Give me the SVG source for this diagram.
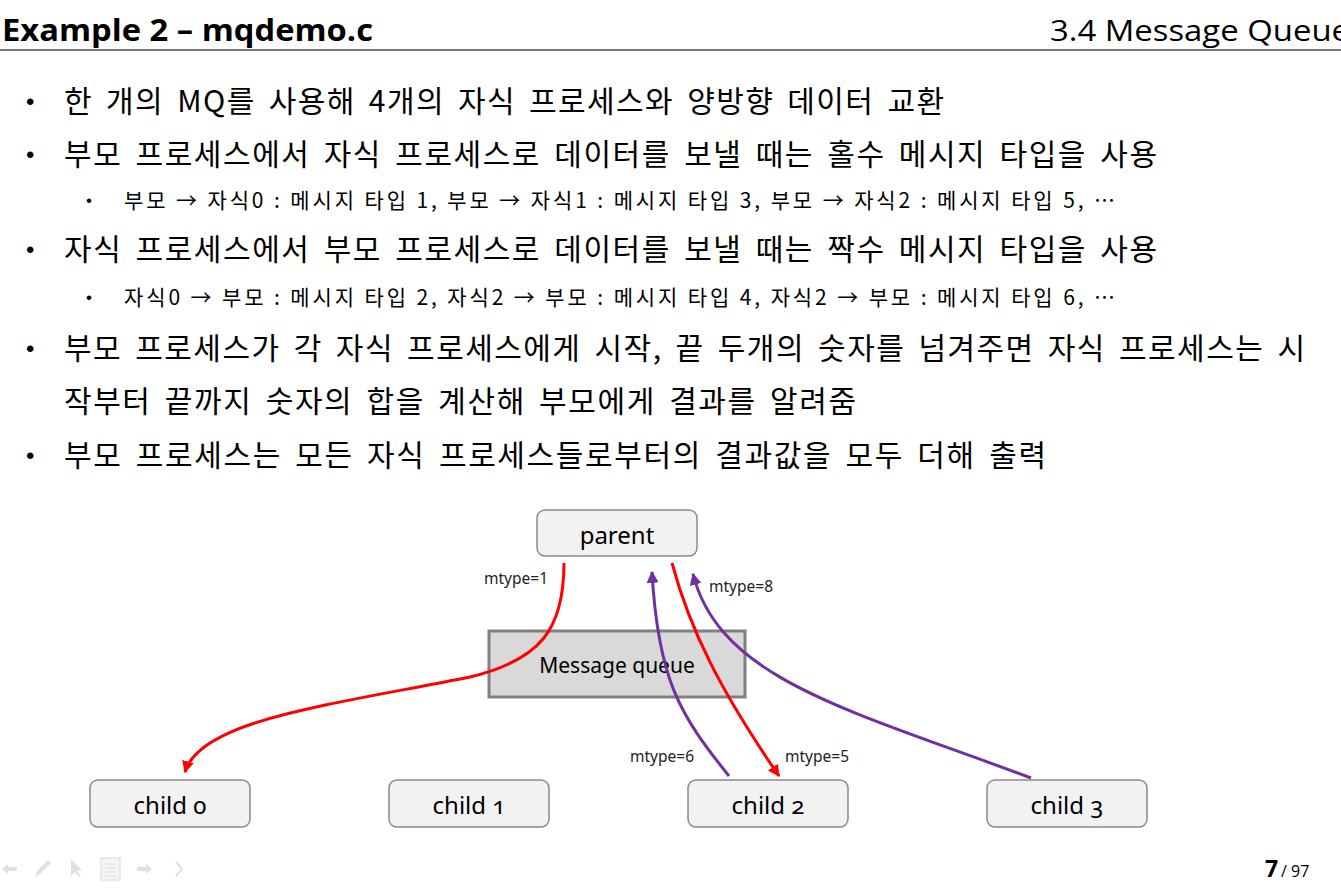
<svg xmlns="http://www.w3.org/2000/svg" width="1341" height="889" viewBox="0 0 1341 889">
<defs>
<style>
.kr{font-family:"Noto Sans CJK KR","Noto Sans",sans-serif;fill:#000;}
.b{font-size:30px;word-spacing:5px;}
.s{font-size:21px;word-spacing:0px;}
.dot{font-family:"Liberation Sans",sans-serif;fill:#000;}
.node rect{fill:#f2f2f2;stroke:#8a8a8a;stroke-width:1.5;}
.lbl{font-family:"Noto Sans","Open Sans",sans-serif;fill:#000;text-anchor:middle;font-feature-settings:"onum";font-variant-numeric:oldstyle-nums;}
.mt{font-family:"Noto Sans","Open Sans",sans-serif;font-size:15.5px;fill:#222;}
.red{fill:none;stroke:#ff0000;stroke-width:3;}
.pur{fill:none;stroke:#7030a0;stroke-width:3;}
.ic{fill:#e0e0e0;stroke:none;}
</style>
<marker id="ar" viewBox="0 0 10 10" refX="9" refY="5" markerWidth="4" markerHeight="4" orient="auto" markerUnits="strokeWidth">
<path d="M0,0 L10,5 L0,10 Z" fill="#ff0000"/>
</marker>
<marker id="ap" viewBox="0 0 10 10" refX="9" refY="5" markerWidth="4" markerHeight="4" orient="auto" markerUnits="strokeWidth">
<path d="M0,0 L10,5 L0,10 Z" fill="#7030a0"/>
</marker>
</defs>
<rect x="0" y="0" width="1341" height="889" fill="#ffffff"/>

<g id="header">
<text x="2" y="41" font-family="'Open Sans','Liberation Sans',sans-serif" font-weight="bold" font-size="30" textLength="371" lengthAdjust="spacingAndGlyphs">Example 2 – mqdemo.c</text>
<text x="1050" y="41" font-family="'Open Sans','Liberation Sans',sans-serif" font-size="30" textLength="300" lengthAdjust="spacingAndGlyphs">3.4 Message Queue</text>
<line x1="0" y1="50" x2="1341" y2="50" stroke="#777777" stroke-width="2.2"/>
</g>

<g id="bullets">
<text class="dot" x="26" y="110" font-size="24">•</text>
<text class="kr b" x="64" y="112" textLength="880" lengthAdjust="spacing">한 개의 MQ를 사용해 4개의 자식 프로세스와 양방향 데이터 교환</text>
<text class="dot" x="26" y="163" font-size="24">•</text>
<text class="kr b" x="64" y="165" textLength="1093" lengthAdjust="spacing">부모 프로세스에서 자식 프로세스로 데이터를 보낼 때는 홀수 메시지 타입을 사용</text>
<text class="dot" x="86" y="206" font-size="17">•</text>
<text class="kr s" x="124" y="208" textLength="991" lengthAdjust="spacing">부모 → 자식0 : 메시지 타입 1, 부모 → 자식1 : 메시지 타입 3, 부모 → 자식2 : 메시지 타입 5, …</text>
<text class="dot" x="26" y="258" font-size="24">•</text>
<text class="kr b" x="64" y="260" textLength="1093" lengthAdjust="spacing">자식 프로세스에서 부모 프로세스로 데이터를 보낼 때는 짝수 메시지 타입을 사용</text>
<text class="dot" x="86" y="303" font-size="17">•</text>
<text class="kr s" x="124" y="305" textLength="991" lengthAdjust="spacing">자식0 → 부모 : 메시지 타입 2, 자식2 → 부모 : 메시지 타입 4, 자식2 → 부모 : 메시지 타입 6, …</text>
<text class="dot" x="26" y="357" font-size="24">•</text>
<text class="kr b" x="64" y="359" textLength="1241" lengthAdjust="spacing">부모 프로세스가 각 자식 프로세스에게 시작, 끝 두개의 숫자를 넘겨주면 자식 프로세스는 시</text>
<text class="kr b" x="64" y="412" textLength="792" lengthAdjust="spacing">작부터 끝까지 숫자의 합을 계산해 부모에게 결과를 알려줌</text>
<text class="dot" x="26" y="464" font-size="24">•</text>
<text class="kr b" x="64" y="466" textLength="982" lengthAdjust="spacing">부모 프로세스는 모든 자식 프로세스들로부터의 결과값을 모두 더해 출력</text>
</g>

<g id="queue">
<rect x="489" y="631" width="256" height="66" fill="#d9d9d9" stroke="#808080" stroke-width="3"/>
<text class="lbl" x="617" y="673" font-size="21">Message queue</text>
</g>

<g id="connectors">
<path class="red" d="M564,563 C564,630 540,660 470,677 C330,705 200,720 185,772" marker-end="url(#ar)"/>
<path class="pur" d="M729,776 C680,715 658,680 652,572" marker-end="url(#ap)"/>
<path class="red" d="M672,563 C690,630 720,690 779,776" marker-end="url(#ar)"/>
<path class="pur" d="M1031,778 C850,710 720,680 693,574" marker-end="url(#ap)"/>
<text class="mt" x="484" y="584">mtype=1</text>
<text class="mt" x="709" y="592">mtype=8</text>
<text class="mt" x="630" y="762">mtype=6</text>
<text class="mt" x="785" y="762">mtype=5</text>
</g>

<g id="parent" class="node">
<rect x="537" y="510" width="160" height="46" rx="8"/>
<text class="lbl" x="617" y="544" font-size="24">parent</text>
</g>
<g id="child0" class="node">
<rect x="90" y="780" width="160" height="47" rx="8"/>
<text class="lbl" x="170" y="814" font-size="24">child 0</text>
</g>
<g id="child1" class="node">
<rect x="389" y="780" width="160" height="47" rx="8"/>
<text class="lbl" x="469" y="814" font-size="24">child 1</text>
</g>
<g id="child2" class="node">
<rect x="688" y="780" width="160" height="47" rx="8"/>
<text class="lbl" x="768" y="814" font-size="24">child 2</text>
</g>
<g id="child3" class="node">
<rect x="987" y="780" width="160" height="47" rx="8"/>
<text class="lbl" x="1067" y="814" font-size="24">child 3</text>
</g>

<g id="footer">
<path class="ic" d="M2,869 L8,864 L8,867 L17,867 L17,871 L8,871 L8,874 Z"/>
<path class="ic" d="M35,877 L37,871 L48,860 L51,863 L40,874 Z"/>
<path class="ic" d="M71,859 L71,876 L75,872 L79,877 L81,876 L77,871 L82,870 Z"/>
<rect x="101" y="858" width="19" height="22" fill="#f4f4f4" stroke="#dddddd" stroke-width="1.2"/>
<path d="M105,864 H116 M105,868 H116 M105,872 H116 M105,876 H116" stroke="#dddddd" stroke-width="1.2"/>
<path class="ic" d="M152,869 L146,864 L146,867 L137,867 L137,871 L146,871 L146,874 Z"/>
<path d="M176,862 L182,869 L176,876" fill="none" stroke="#e0e0e0" stroke-width="2"/>
<text x="1265" y="877" font-family="'Open Sans','Liberation Sans',sans-serif" font-weight="bold" font-size="23">7</text>
<text x="1281" y="877" font-family="'Open Sans','Liberation Sans',sans-serif" font-size="16">/ 97</text>
</g>
</svg>
